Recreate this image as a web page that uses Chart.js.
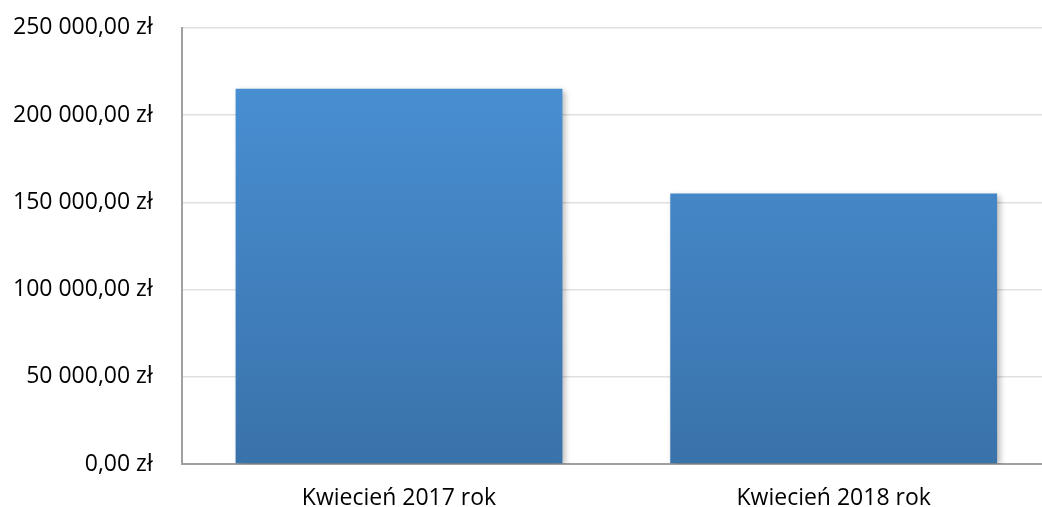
<!DOCTYPE html>
<html>
<head>
<meta charset="utf-8">
<script src="https://cdn.jsdelivr.net/npm/chart.js@4"></script>
<style>
  html, body { margin: 0; padding: 0; background: #fff; overflow: hidden; }
  #wrap { width: 1062px; height: 522px; position: relative; top: -15px; }
</style>
</head>
<body>
<div id="wrap"><canvas id="chart"></canvas></div>
<script>
const categories = ['Kwiecień 2017 rok', 'Kwiecień 2018 rok'];
const values = [215000, 155000];
const yMin = 0;
const yMax = 250000;
const yStep = 50000;

function formatPLN(v) {
    const s = Math.round(v).toString().replace(/\B(?=(\d{3})+(?!\d))/g, ' ');
    return s + ',00 zł';
}

// soft shadow to the right of bars
const barShadow = {
    id: 'barShadow',
    beforeDatasetDraw(chart) {
        const ctx = chart.ctx;
        ctx.save();
        ctx.shadowColor = 'rgba(0,0,0,0.28)';
        ctx.shadowBlur = 6;
        ctx.shadowOffsetX = 3;
        ctx.shadowOffsetY = 2;
    },
    afterDatasetDraw(chart) {
        chart.ctx.restore();
    }
};

const ctx = document.getElementById('chart').getContext('2d');
new Chart(ctx, {
    type: 'bar',
    data: {
        labels: categories,
        datasets: [{
            data: values,
            backgroundColor: (c) => {
                const area = c.chart.chartArea;
                if (!area) return '#4580c0';
                const g = c.chart.ctx.createLinearGradient(0, area.top, 0, area.bottom);
                g.addColorStop(0, '#4a93d8');
                g.addColorStop(1, '#3a72aa');
                return g;
            },
            borderWidth: 0,
            barPercentage: 0.752,
            categoryPercentage: 1.0
        }]
    },
    plugins: [barShadow],
    options: {
        responsive: true,
        maintainAspectRatio: false,
        animation: false,
        layout: { padding: { left: -16, right: 11, top: -2, bottom: -26 } },
        scales: {
            x: {
                grid: { display: false, drawTicks: false },
                border: { display: true, color: '#a0a0a0', width: 2 },
                ticks: {
                    color: '#000',
                    font: { family: 'Open Sans', size: 23, lineHeight: 1.0 },
                    padding: 23
                }
            },
            y: {
                min: yMin,
                max: yMax,
                grid: { color: '#e0e0e0', lineWidth: 1.5, drawTicks: false },
                border: { display: true, color: '#a0a0a0', width: 2 },
                ticks: {
                    stepSize: yStep,
                    color: '#000',
                    font: { family: 'Open Sans', size: 23 },
                    padding: 29,
                    callback: (v) => formatPLN(v)
                }
            }
        },
        plugins: {
            legend: { display: false },
            tooltip: { enabled: false }
        }
    }
});
</script>
</body>
</html>
